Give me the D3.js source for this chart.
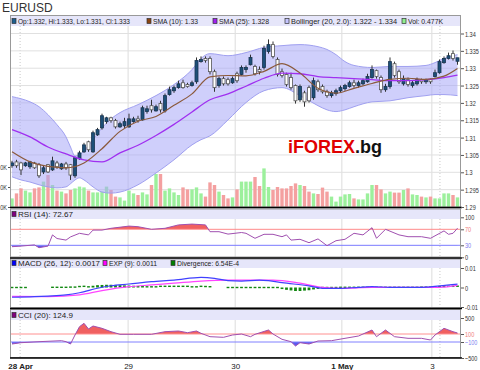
<!DOCTYPE html>
<html>
<head>
<meta charset="utf-8">
<script src="https://cdn.jsdelivr.net/npm/d3@7"></script>
<style>
  body { margin: 0; background: #fff; }
  svg { display: block; font-family: "Liberation Sans", Arial, sans-serif; }
</style>
</head>
<body>
<svg id="chart" width="480" height="370"></svg>
<script>
// hourly EURUSD candles, 28 Apr - 3 May
const open = [
  1.3019,1.3030,1.3027,1.3019,1.3016,1.3027,1.3022,1.3001,1.3022,1.3007,
  1.3027,1.3010,1.3024,1.3022,1.2990,1.3039,1.3059,1.3088,1.3059,1.3108,
  1.3128,1.3146,1.3157,1.3149,1.3131,1.3134,1.3131,1.3146,1.3154,1.3151,
  1.3175,1.3192,1.3177,1.3198,1.3177,1.3224,1.3235,1.3244,1.3258,1.3253,
  1.3250,1.3261,1.3319,1.3328,1.3328,1.3290,1.3250,1.3270,1.3267,1.3258,
  1.3284,1.3282,1.3296,1.3310,1.3305,1.3296,1.3302,1.3348,1.3368,1.3325,
  1.3290,1.3282,1.3273,1.3250,1.3209,1.3229,1.3244,1.3215,1.3261,1.3247,
  1.3232,1.3221,1.3227,1.3235,1.3241,1.3247,1.3258,1.3250,1.3255,1.3261,
  1.3273,1.3293,1.3273,1.3238,1.3247,1.3313,1.3290,1.3255,1.3267,1.3250,
  1.3255,1.3267,1.3261,1.3267,1.3276,1.3287,1.3316,1.3328,1.3342,1.3320
];
const high = [
  1.3033,1.3036,1.3030,1.3030,1.3033,1.3030,1.3027,1.3019,1.3024,1.3045,
  1.3033,1.3027,1.3030,1.3024,1.3045,1.3062,1.3085,1.3091,1.3120,1.3128,
  1.3169,1.3160,1.3160,1.3154,1.3146,1.3157,1.3169,1.3160,1.3163,1.3192,
  1.3192,1.3209,1.3195,1.3206,1.3227,1.3247,1.3250,1.3264,1.3267,1.3258,
  1.3264,1.3331,1.3334,1.3334,1.3334,1.3296,1.3276,1.3276,1.3273,1.3276,
  1.3290,1.3308,1.3308,1.3339,1.3310,1.3305,1.3365,1.3383,1.3377,1.3331,
  1.3299,1.3287,1.3287,1.3253,1.3253,1.3235,1.3250,1.3273,1.3267,1.3253,
  1.3238,1.3235,1.3241,1.3250,1.3255,1.3264,1.3267,1.3264,1.3270,1.3284,
  1.3308,1.3296,1.3279,1.3255,1.3331,1.3319,1.3296,1.3279,1.3273,1.3264,
  1.3273,1.3270,1.3270,1.3270,1.3296,1.3325,1.3334,1.3345,1.3351,1.3330
];
const low = [
  1.3013,1.3013,1.2992,1.3016,1.3010,1.3010,1.2984,1.2995,1.2998,1.3004,
  1.3010,1.3007,1.3007,1.2978,1.2984,1.3036,1.3056,1.3059,1.3056,1.3105,
  1.3123,1.3140,1.3143,1.3126,1.3128,1.3128,1.3128,1.3143,1.3143,1.3149,
  1.3169,1.3172,1.3175,1.3172,1.3172,1.3221,1.3229,1.3241,1.3241,1.3244,
  1.3247,1.3255,1.3316,1.3316,1.3282,1.3232,1.3244,1.3250,1.3250,1.3255,
  1.3258,1.3279,1.3287,1.3308,1.3279,1.3282,1.3296,1.3342,1.3328,1.3276,
  1.3273,1.3247,1.3238,1.3198,1.3203,1.3189,1.3201,1.3209,1.3232,1.3227,
  1.3215,1.3215,1.3221,1.3229,1.3235,1.3244,1.3244,1.3244,1.3250,1.3258,
  1.3270,1.3270,1.3229,1.3232,1.3241,1.3273,1.3255,1.3250,1.3247,1.3244,
  1.3250,1.3255,1.3255,1.3255,1.3273,1.3284,1.3313,1.3325,1.3322,1.3310
];
const close = [
  1.3027,1.3019,1.3007,1.3027,1.3030,1.3013,1.2990,1.3013,1.3001,1.3033,
  1.3016,1.3024,1.3013,1.2992,1.3042,1.3056,1.3079,1.3065,1.3114,1.3123,
  1.3163,1.3157,1.3149,1.3131,1.3140,1.3146,1.3154,1.3154,1.3149,1.3186,
  1.3183,1.3180,1.3189,1.3180,1.3221,1.3238,1.3244,1.3255,1.3244,1.3247,
  1.3258,1.3322,1.3325,1.3322,1.3290,1.3244,1.3270,1.3255,1.3255,1.3270,
  1.3264,1.3302,1.3302,1.3331,1.3284,1.3290,1.3357,1.3368,1.3334,1.3282,
  1.3279,1.3253,1.3244,1.3206,1.3247,1.3203,1.3206,1.3264,1.3238,1.3232,
  1.3221,1.3229,1.3235,1.3244,1.3250,1.3258,1.3250,1.3258,1.3264,1.3276,
  1.3296,1.3276,1.3238,1.3247,1.3319,1.3279,1.3261,1.3270,1.3253,1.3258,
  1.3267,1.3261,1.3267,1.3261,1.3287,1.3319,1.3328,1.3336,1.3328,1.3330
];
// volume in thousands
const volume = [
  0.43,0.68,0.93,0.82,0.73,0.93,0.98,1.27,1.60,1.10,
  0.82,0.77,0.68,0.85,0.93,1.02,0.98,0.82,0.73,0.73,
  0.77,1.02,0.85,0.52,0.48,0.32,0.82,0.68,0.60,0.73,
  0.63,1.10,1.65,1.65,0.82,0.93,0.73,0.60,0.98,0.88,
  0.88,0.98,0.68,0.52,1.23,1.10,0.77,0.60,0.43,0.48,
  0.88,1.27,1.27,1.27,1.50,1.05,1.93,1.00,0.85,1.00,
  0.93,0.93,1.05,1.18,1.10,1.05,0.77,0.68,0.65,0.97,
  0.77,0.52,0.27,0.52,0.63,0.65,0.43,0.38,0.38,0.68,
  1.10,1.10,0.88,0.68,0.77,0.72,0.72,0.85,0.93,0.63,
  0.60,0.52,0.48,0.52,0.43,0.43,0.68,0.68,0.60,0.48
];

// overlays, read at sampled candles
const maIdx = [0,4,8,12,16,20,24,28,32,36,40,44,48,52,56,60,64,68,72,76,80,84,88,92,96,99];
const sma10 = [1.3059,1.3030,1.3017,1.3013,1.3027,1.3068,1.3118,1.3147,1.3161,1.3193,1.3226,1.3275,1.3279,
  1.3278,1.3291,1.3313,1.3286,1.3242,1.3228,1.3242,1.3256,1.3268,1.3271,1.3268,1.3277,1.3299];
const sma25 = [1.3123,1.3102,1.3073,1.3053,1.3036,1.3030,1.3056,1.3078,1.3106,1.3138,1.3174,1.3209,1.3226,
  1.3248,1.3271,1.3286,1.3284,1.3276,1.3273,1.3270,1.3267,1.3264,1.3264,1.3267,1.3273,1.3280];
const bbIdx = [0,2,4,6,8,10,12,13,14,15,16,18,20,22,24,28,32,36,40,42,44,48,52,56,60,64,68,70,72,74,76,80,84,88,92,94,96,99];
const bbUpper = [1.3218,1.3212,1.3203,1.3189,1.3166,1.3137,1.3102,1.3073,1.3047,1.3050,1.3062,1.3094,1.3128,
  1.3154,1.3172,1.3195,1.3221,1.3253,1.3296,1.3328,1.3342,1.3336,1.3345,1.3360,1.3365,1.3368,1.3362,1.3354,
  1.3339,1.3319,1.3308,1.3302,1.3305,1.3305,1.3308,1.3316,1.3328,1.3339];
const bbLower = [1.2987,1.2978,1.2972,1.2964,1.2958,1.2955,1.2958,1.2967,1.2978,1.2984,1.2978,1.2958,1.2943,
  1.2940,1.2943,1.2964,1.2998,1.3036,1.3079,1.3094,1.3105,1.3151,1.3201,1.3235,1.3244,1.3221,1.3192,1.3180,
  1.3175,1.3180,1.3189,1.3203,1.3206,1.3215,1.3221,1.3224,1.3224,1.3221];

// RSI (14)
const rsiIdx = [0,2,5,6,8,9,10,12,13,15,17,18,20,22,26,28,31,34,37,40,43,44,46,48,51,52,54,56,58,60,
  61,62,64,66,68,70,72,74,76,78,80,81,83,86,88,91,93,96,97,98,99];
const rsi = [26.5,28,31,24,28,56,47,43,51,60,56,68,68,72.5,78,76.5,70,72.5,81,83,81,64,64,58,62,60,47.5,57.5,57.5,51.5,
  56,43,45,36.5,46,29,41.5,45,60,56,74,47.5,70,56,51.5,51.5,47.5,66,57.5,60,72.67];

// MACD (26, 12), EXP (9), divergence
const macdIdx = [0,5,8,12,15,19,22,26,31,36,42,45,48,51,55,57,60,66,69,73,77,80,84,88,91,95,99];
const macd = [-0.0050,-0.0047,-0.0044,-0.0038,-0.0027,-0.0004,0.0009,0.0018,0.0030,0.0038,0.0052,0.0047,0.0035,
  0.0033,0.0038,0.0035,0.0025,0.0008,-0.0004,-0.0004,0.0001,0.0004,0.0001,0.0001,0.0001,0.0008,0.0017];
const expIdx = [0,8,15,20,26,31,36,42,48,51,58,64,69,73,80,88,95,99];
const expLine = [-0.0046,-0.0047,-0.0038,-0.0016,0.0004,0.0013,0.0022,0.0033,0.0038,0.0038,0.0038,0.0022,
  0.0001,-0.0004,0.0001,0.0001,0.0001,0.0011];
const divergence = [
  -0.0003,-0.0003,-0.0003,-0.0003,0,0,0,0,0,0.0001,
  0.0001,0.0001,0.0001,0.0002,0.0002,0.0005,0.0006,0.0007,0.0009,0.0012,
  0.0013,0.0014,0.0014,0.0013,0.0012,0.0011,0.0010,0.0009,0.0008,0.0008,
  0.0007,0.0007,0.0007,0.0006,0.0006,0.0006,0.0006,0.0006,0.0006,0.0006,
  0.0007,0.0007,0.0006,0.0005,0.0004,0,0,0,-0.0003,-0.0003,
  -0.0003,-0.0003,-0.0003,-0.0003,-0.0003,-0.0003,-0.0003,-0.0005,-0.0005,-0.0006,
  -0.0008,-0.0012,-0.0015,-0.0018,-0.0018,-0.0016,-0.0014,-0.0010,-0.0007,-0.0005,
  -0.0003,-0.0003,-0.0002,0.0001,0.0001,0.0001,0.0001,0.0001,0.0001,0.0001,
  0.0001,0.0001,0.0001,0.0001,0.0001,0.0001,0.0001,0.0001,0.0001,0.0001,
  0.0001,0.0002,0.0002,0.0002,0.0002,0.0004,0.0005,0.0006,0.0006,0.000654
];

// CCI (20)
const cciIdx = [0,2,6,11,12,13,14,15,16,17,18,20,22,24,27,31,34,37,39,41,42,44,47,49,51,53,54,57,58,60,
  62,63,64,66,68,71,74,77,80,81,83,85,88,91,93,94,96,98,99];
const cci = [-150,-117,-92,-67,-92,-150,75,283,367,225,300,242,158,92,92,92,158,175,133,175,
  117,33,17,75,100,33,92,200,100,-33,-92,-200,-117,-150,-75,-67,-8,50,200,33,
  200,33,-8,-8,-50,75,242,158,124.9];

const priceTicks = [1.29,1.295,1.3,1.305,1.31,1.315,1.32,1.325,1.33,1.335,1.34];
const volTicks = [0,1,2];
const rsiTicks = [0,30,70,100];
const macdTicks = [-0.01,0,0.01];
const cciTicks = [-500,-100,100,500];
const dayIdx = [1.8,25.8,49.6,73.3,93.3];
const dayLabels = ["28 Apr","29","30","1 May","3"];
const dayBold = [true,false,false,true,false];
const dottedIdx = [1.8,95.1];

const LEFT = 10, RIGHT = 461;
const svg = d3.select("#chart");

const x = d3.scaleLinear().domain([0, 99]).range([12, 457.5]);
const yP = d3.scaleLinear().domain([1.29, 1.34]).range([207, 33.5]);
const yV = d3.scaleLinear().domain([0, 2]).range([207, 167]);
const yR = d3.scaleLinear().domain([0, 100]).range([257.3, 217.3]);
const yM = d3.scaleLinear().domain([-0.01, 0.01]).range([307, 268]);
const yC = d3.scaleLinear().domain([-500, 500]).range([358, 318]);

const panels = [
  {id: "pMain", top: 15, bottom: 207.5, band: 11},
  {id: "pRsi", top: 208.5, bottom: 257.5, band: 10.5},
  {id: "pMacd", top: 258.5, bottom: 308, band: 9.5},
  {id: "pCci", top: 309, bottom: 358, band: 11}
];

const defs = svg.append("defs");
panels.forEach(p => {
  defs.append("clipPath").attr("id", p.id)
    .append("rect").attr("x", LEFT).attr("y", p.top).attr("width", RIGHT - LEFT).attr("height", p.bottom - p.top);
});

// title
svg.append("text").attr("x", 2).attr("y", 12).attr("font-size", 12).attr("fill", "#333").text("EURUSD");

// panel backgrounds + legend bands
panels.forEach(p => {
  svg.append("rect").attr("x", LEFT).attr("y", p.top).attr("width", RIGHT - LEFT).attr("height", p.bottom - p.top)
    .attr("fill", "#fff");
  svg.append("rect").attr("x", LEFT).attr("y", p.top).attr("width", RIGHT - LEFT).attr("height", p.band)
    .attr("fill", "#e6e6fa");
});

// vertical grid
const grid = svg.append("g");
panels.forEach(p => {
  grid.selectAll(null).data(dayIdx.slice(1)).join("line")
    .attr("x1", d => x(d)).attr("x2", d => x(d))
    .attr("y1", p.top + p.band).attr("y2", p.bottom)
    .attr("stroke", "#dcdcdc");
  grid.selectAll(null).data(dottedIdx).join("line")
    .attr("x1", d => x(d)).attr("x2", d => x(d))
    .attr("y1", p.top + p.band).attr("y2", p.bottom)
    .attr("stroke", "#c8c8c8").attr("stroke-dasharray", "1,2");
});
// horizontal grid (price)
grid.selectAll(null).data(priceTicks.slice(1)).join("line")
  .attr("x1", LEFT).attr("x2", RIGHT)
  .attr("y1", d => yP(d)).attr("y2", d => yP(d))
  .attr("stroke", "#e0e0e0");

// ---- main panel
const main = svg.append("g").attr("clip-path", "url(#pMain)");

main.append("g").selectAll("rect").data(volume).join("rect")
  .attr("x", (d, i) => x(i) - 1.7)
  .attr("width", 3.4)
  .attr("y", d => yV(d))
  .attr("height", d => yV(0) - yV(d))
  .attr("fill", (d, i) => close[i] >= open[i] ? "#9cf09c" : "#f4a0a0");

const bb = bbIdx.map((d, k) => ({i: d, up: bbUpper[k], lo: bbLower[k]}));
main.append("path").datum(bb)
  .attr("d", d3.area().x(d => x(d.i)).y0(d => yP(d.lo)).y1(d => yP(d.up)).curve(d3.curveMonotoneX))
  .attr("fill", "#a8a8f8").attr("fill-opacity", 0.55);
["up", "lo"].forEach(k => {
  main.append("path").datum(bb)
    .attr("d", d3.line().x(d => x(d.i)).y(d => yP(d[k])).curve(d3.curveMonotoneX))
    .attr("fill", "none").attr("stroke", "#a0a0f0").attr("stroke-width", 1);
});

const candles = main.append("g");
candles.selectAll("line").data(open).join("line")
  .attr("x1", (d, i) => x(i)).attr("x2", (d, i) => x(i))
  .attr("y1", (d, i) => yP(high[i])).attr("y2", (d, i) => yP(low[i]))
  .attr("stroke", "#333").attr("stroke-width", 1);
candles.selectAll("rect").data(open).join("rect")
  .attr("x", (d, i) => x(i) - 1.5)
  .attr("width", 3)
  .attr("y", (d, i) => yP(Math.max(open[i], close[i])))
  .attr("height", (d, i) => Math.max(1, yP(Math.min(open[i], close[i])) - yP(Math.max(open[i], close[i]))))
  .attr("fill", (d, i) => close[i] >= open[i] ? "#1d4f78" : "#fff")
  .attr("stroke", (d, i) => close[i] >= open[i] ? "#1a3550" : "#555")
  .attr("stroke-width", 0.8);

const maLine = vals => d3.line().x((d, k) => x(maIdx[k])).y(d => yP(d)).curve(d3.curveMonotoneX)(vals);
main.append("path").attr("d", maLine(sma25)).attr("fill", "none").attr("stroke", "#a030f0").attr("stroke-width", 1.3);
main.append("path").attr("d", maLine(sma10)).attr("fill", "none").attr("stroke", "#8b5a3c").attr("stroke-width", 1.2);

// watermark
const wm = svg.append("text").attr("x", 288).attr("y", 153).attr("font-size", 18).attr("font-weight", "bold");
wm.append("tspan").attr("fill", "#e00000").text("iFOREX");
wm.append("tspan").attr("fill", "#111").text(".bg");

// ---- RSI
const rsiG = svg.append("g").attr("clip-path", "url(#pRsi)");
const rsiPts = rsiIdx.map((d, k) => [d, rsi[k]]);
defs.append("clipPath").attr("id", "rsiHi").append("rect")
  .attr("x", LEFT).attr("y", 200).attr("width", RIGHT - LEFT).attr("height", yR(70) - 200);
defs.append("clipPath").attr("id", "rsiLo").append("rect")
  .attr("x", LEFT).attr("y", yR(30)).attr("width", RIGHT - LEFT).attr("height", 20);
rsiG.append("path").datum(rsiPts).attr("clip-path", "url(#rsiHi)")
  .attr("d", d3.area().x(d => x(d[0])).y0(yR(70)).y1(d => yR(d[1])))
  .attr("fill", "#f06060");
rsiG.append("path").datum(rsiPts).attr("clip-path", "url(#rsiLo)")
  .attr("d", d3.area().x(d => x(d[0])).y0(yR(30)).y1(d => yR(d[1])))
  .attr("fill", "#5a5af0");
rsiG.append("line").attr("x1", LEFT).attr("x2", RIGHT).attr("y1", yR(70)).attr("y2", yR(70)).attr("stroke", "#ff9090");
rsiG.append("line").attr("x1", LEFT).attr("x2", RIGHT).attr("y1", yR(30)).attr("y2", yR(30)).attr("stroke", "#8080ff");
rsiG.append("path").datum(rsiPts)
  .attr("d", d3.line().x(d => x(d[0])).y(d => yR(d[1])))
  .attr("fill", "none").attr("stroke", "#a050b0").attr("stroke-width", 1);

// ---- MACD
const macdG = svg.append("g").attr("clip-path", "url(#pMacd)");
macdG.selectAll("rect").data(divergence).join("rect")
  .attr("x", (d, i) => x(i) - 1.4)
  .attr("width", 2.8)
  .attr("y", d => Math.min(yM(0), yM(d)) - (Math.abs(yM(d) - yM(0)) < 1.3 ? 0.7 : 0))
  .attr("height", d => Math.max(1.4, Math.abs(yM(d) - yM(0))))
  .attr("fill", "#118811")
  .attr("display", d => d === 0 ? "none" : null);
macdG.append("path")
  .attr("d", d3.line().x((d, k) => x(expIdx[k])).y(d => yM(d)).curve(d3.curveMonotoneX)(expLine))
  .attr("fill", "none").attr("stroke", "#ff44ff").attr("stroke-width", 1.2);
macdG.append("path")
  .attr("d", d3.line().x((d, k) => x(macdIdx[k])).y(d => yM(d)).curve(d3.curveMonotoneX)(macd))
  .attr("fill", "none").attr("stroke", "#4040ff").attr("stroke-width", 1.2);

// ---- CCI
const cciG = svg.append("g").attr("clip-path", "url(#pCci)");
const cciPts = cciIdx.map((d, k) => [d, cci[k]]);
defs.append("clipPath").attr("id", "cciHi").append("rect")
  .attr("x", LEFT).attr("y", 300).attr("width", RIGHT - LEFT).attr("height", yC(100) - 300);
defs.append("clipPath").attr("id", "cciLo").append("rect")
  .attr("x", LEFT).attr("y", yC(-100)).attr("width", RIGHT - LEFT).attr("height", 30);
cciG.append("path").datum(cciPts).attr("clip-path", "url(#cciHi)")
  .attr("d", d3.area().x(d => x(d[0])).y0(yC(100)).y1(d => yC(d[1])))
  .attr("fill", "#f06060");
cciG.append("path").datum(cciPts).attr("clip-path", "url(#cciLo)")
  .attr("d", d3.area().x(d => x(d[0])).y0(yC(-100)).y1(d => yC(d[1])))
  .attr("fill", "#5a5af0");
cciG.append("line").attr("x1", LEFT).attr("x2", RIGHT).attr("y1", yC(100)).attr("y2", yC(100)).attr("stroke", "#ff9090");
cciG.append("line").attr("x1", LEFT).attr("x2", RIGHT).attr("y1", yC(-100)).attr("y2", yC(-100)).attr("stroke", "#8080ff");
cciG.append("path").datum(cciPts)
  .attr("d", d3.line().x(d => x(d[0])).y(d => yC(d[1])))
  .attr("fill", "none").attr("stroke", "#a050b0").attr("stroke-width", 1);

// frames
panels.forEach(p => {
  svg.append("rect").attr("x", LEFT + 0.5).attr("y", p.top + 0.5)
    .attr("width", RIGHT - LEFT - 1).attr("height", p.bottom - p.top - 1)
    .attr("fill", "none").attr("stroke", "#999");
});
[207.5, 258, 308.5, 358].forEach(yy => {
  svg.append("line").attr("x1", LEFT).attr("x2", RIGHT + 1).attr("y1", yy).attr("y2", yy)
    .attr("stroke", "#000").attr("stroke-width", 1.6);
});

// axes: labels squeezed horizontally to the narrow width of the original font
const charW = c => c === "." ? 1.5 : c === "-" ? 2.2 : c === "K" ? 3.8 : 3.1;
const squeeze = sel => sel.each(function () {
  const t = d3.select(this);
  const x0 = +t.attr("x");
  const s = d3.sum(this.textContent.split(""), charW) / this.getComputedTextLength();
  t.attr("x", 0).attr("transform", `translate(${x0},0) scale(${s},1)`);
});
const styleAxis = (g, colors) => {
  g.select(".domain").remove();
  g.selectAll("text").attr("font-size", 8).attr("fill", d => colors ? colors(d) : "#333")
    .attr("font-family", "'Liberation Sans', Arial, sans-serif")
    .call(squeeze);
  g.selectAll("line").attr("stroke", "#555");
};
svg.append("g").attr("transform", `translate(${RIGHT},0)`)
  .call(d3.axisRight(yP).tickValues(priceTicks).tickSize(3).tickPadding(1).tickFormat(d => String(+d.toFixed(3))))
  .call(g => styleAxis(g));
svg.append("g").attr("transform", `translate(${RIGHT},0)`)
  .call(d3.axisRight(yR).tickValues(rsiTicks).tickSize(3).tickPadding(1))
  .call(g => styleAxis(g, d => d === 70 ? "#f08080" : d === 30 ? "#8080f0" : "#333"));
svg.append("g").attr("transform", `translate(${RIGHT},0)`)
  .call(d3.axisRight(yM).tickValues(macdTicks).tickSize(3).tickPadding(1).tickFormat(d => String(d)))
  .call(g => styleAxis(g));
svg.append("g").attr("transform", `translate(${RIGHT},0)`)
  .call(d3.axisRight(yC).tickValues(cciTicks).tickSize(3).tickPadding(1))
  .call(g => styleAxis(g, d => d === 100 ? "#f08080" : d === -100 ? "#8080f0" : "#333"));
svg.append("g").attr("transform", `translate(${LEFT},0)`)
  .call(d3.axisLeft(yV).tickValues(volTicks).tickSize(2).tickPadding(1).tickFormat(d => d.toFixed(1) + "K"))
  .call(g => styleAxis(g));

const xAxis = svg.append("g").attr("transform", "translate(0,358)")
  .call(d3.axisBottom(x).tickValues(dayIdx).tickSize(0).tickPadding(5)
    .tickFormat((d, i) => dayLabels[i]));
xAxis.select(".domain").remove();
xAxis.selectAll("text").attr("font-size", 8).attr("fill", "#222")
  .attr("font-family", "'Liberation Sans', Arial, sans-serif")
  .attr("font-weight", (d, i) => dayBold[i] ? "bold" : null);

// legends
const legend = (y, items) => {
  items.forEach(it => {
    svg.append("rect").attr("x", it.sx).attr("y", y - 5.5).attr("width", 4).attr("height", 5)
      .attr("fill", it.color).attr("stroke", "#333").attr("stroke-width", 0.7);
    svg.append("text").attr("x", it.sx + 6).attr("y", y).attr("font-size", 8).attr("fill", "#222")
      .attr("textLength", it.w).attr("lengthAdjust", "spacingAndGlyphs").text(it.text);
  });
};
legend(24, [
  {sx: 12, color: "#1d5f8f", text: "Op:1.332, Hi:1.333, Lo:1.331, Cl:1.333", w: 112},
  {sx: 147, color: "#8b4513", text: "SMA (10): 1.33", w: 45},
  {sx: 213, color: "#a020f0", text: "SMA (25): 1.328", w: 50},
  {sx: 285, color: "#c4c4ff", text: "Bollinger (20, 2.0): 1.322 - 1.334", w: 106},
  {sx: 402, color: "#90ee90", text: "Vol: 0.477K", w: 35}
]);
legend(217, [{sx: 12, color: "#800080", text: "RSI (14): 72.67", w: 55}]);
legend(266, [
  {sx: 12, color: "#0000ff", text: "MACD (26, 12): 0.0017", w: 82},
  {sx: 103, color: "#ff00ff", text: "EXP (9): 0.0011", w: 48},
  {sx: 171, color: "#008000", text: "Divergence: 6.54E-4", w: 62}
]);
legend(318, [{sx: 12, color: "#800080", text: "CCI (20): 124.9", w: 55}]);
</script>
</body>
</html>
